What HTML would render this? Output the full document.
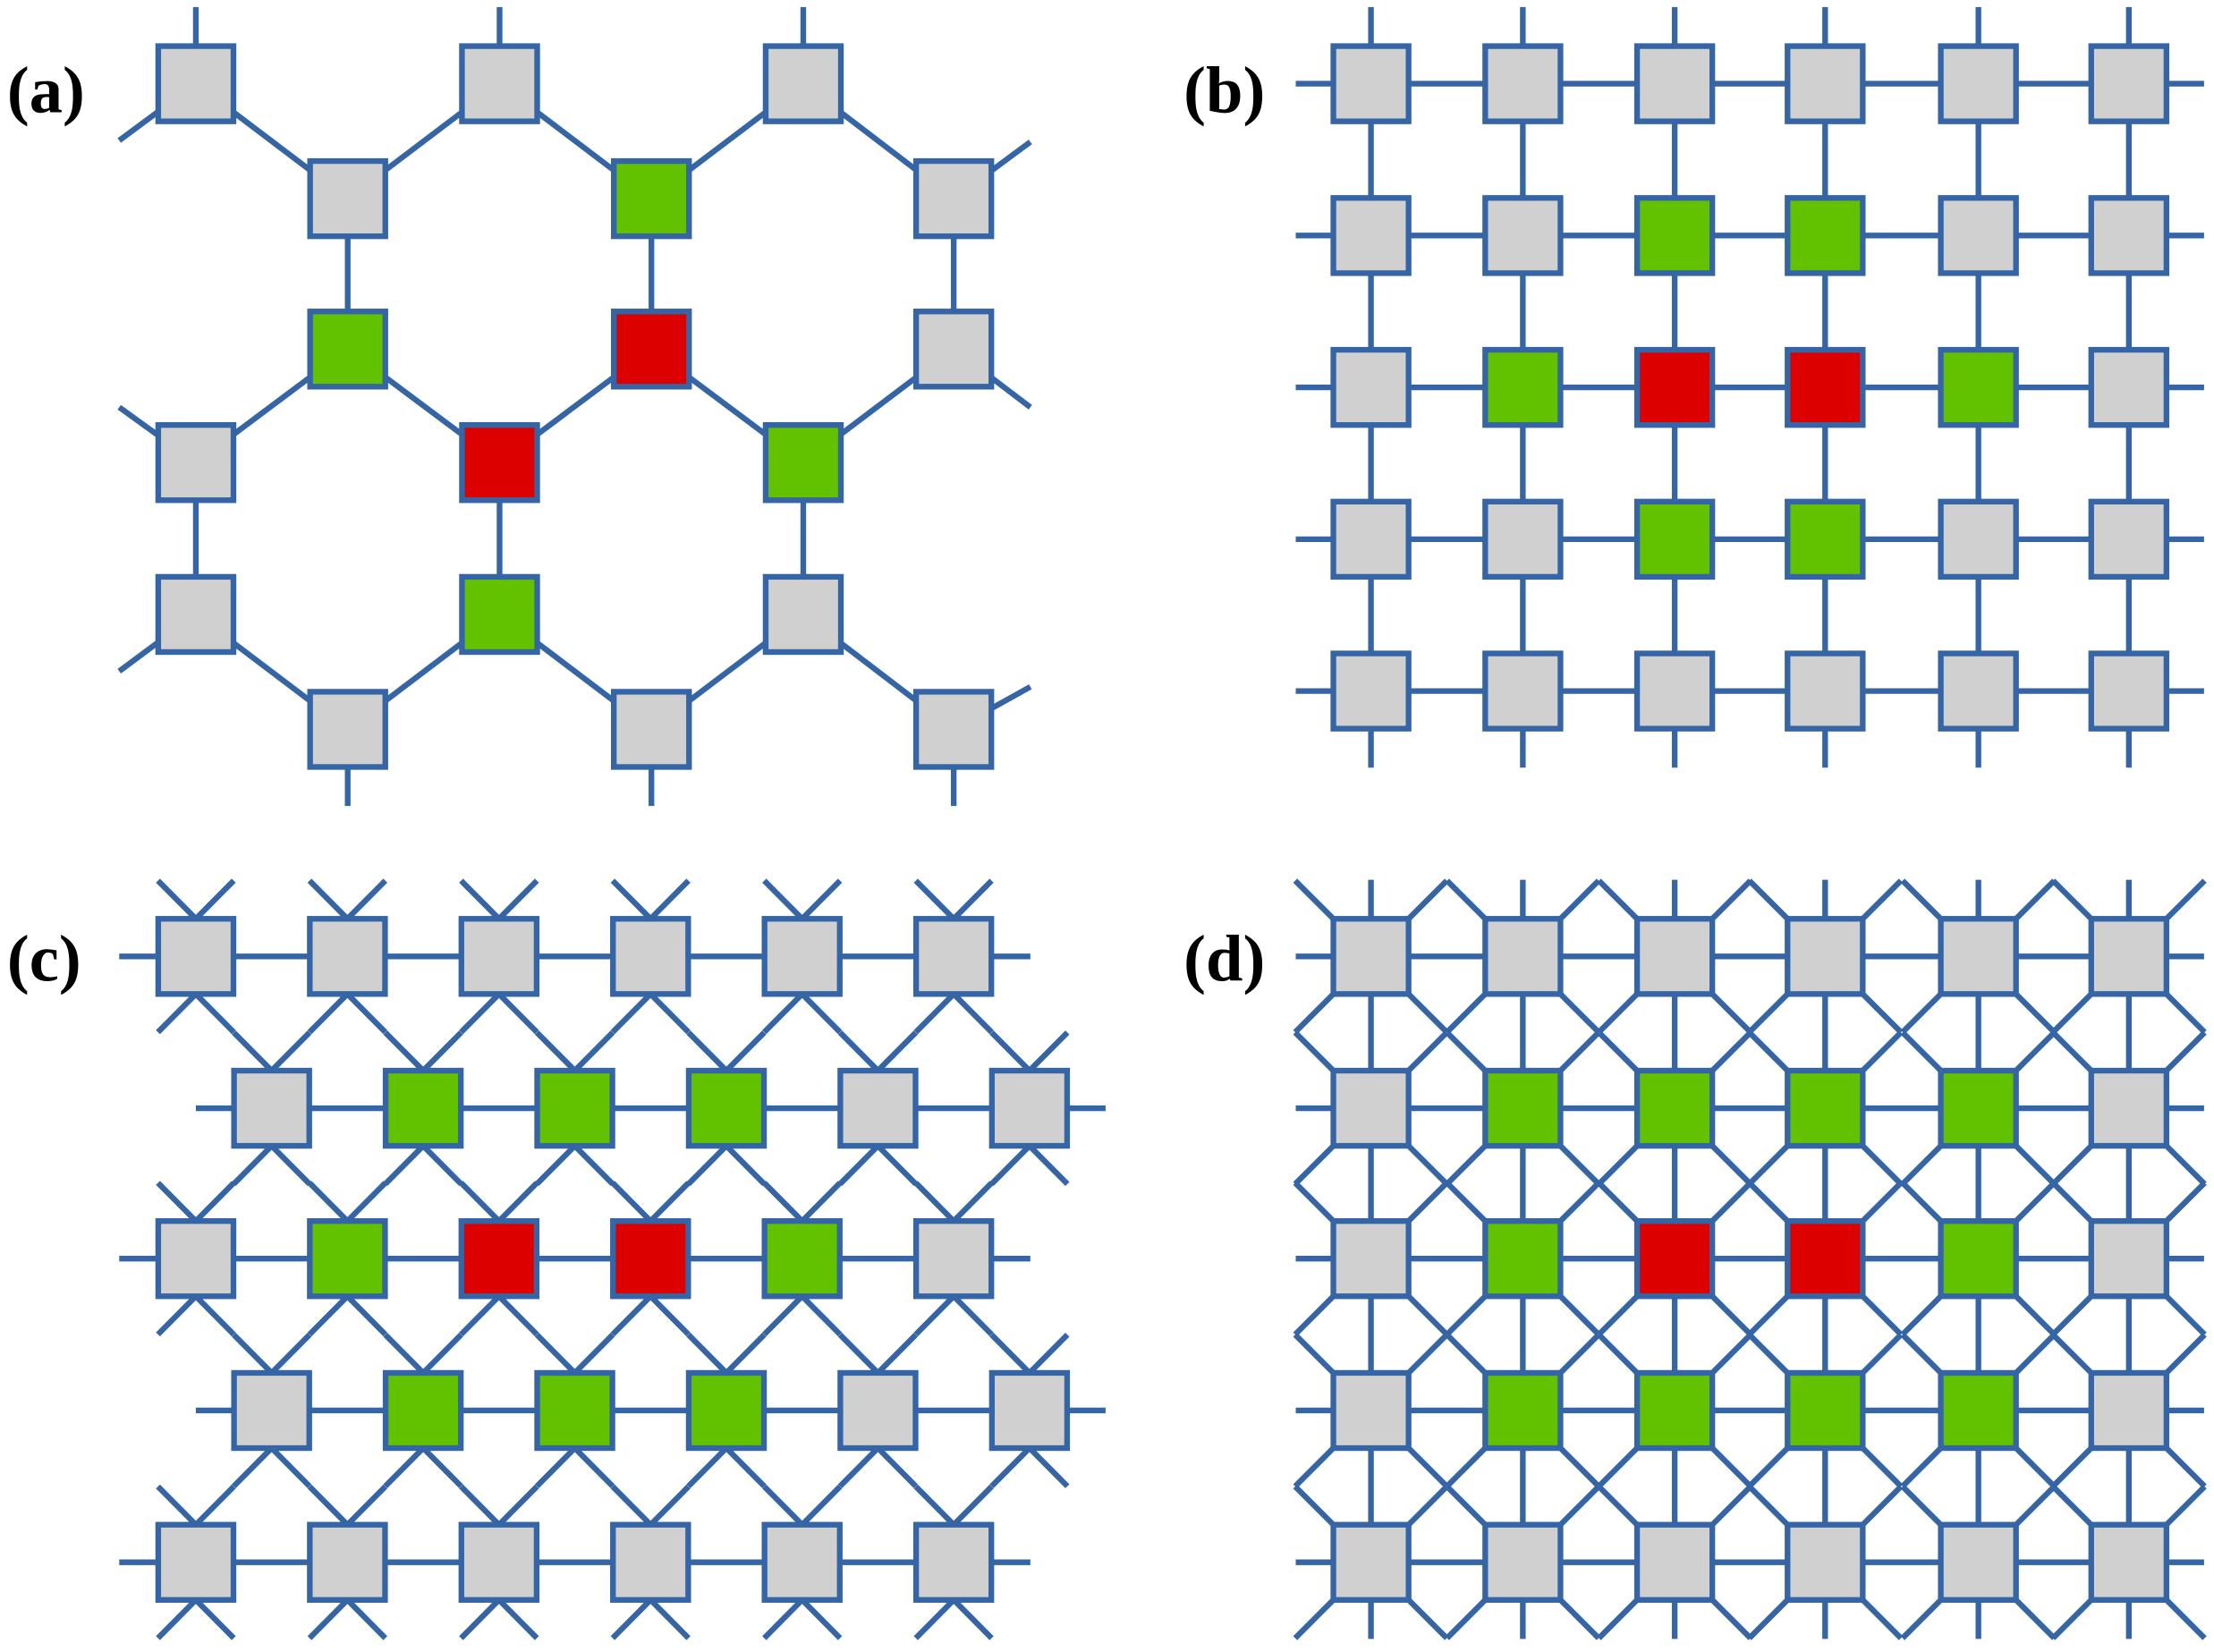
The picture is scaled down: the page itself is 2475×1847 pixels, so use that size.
<!DOCTYPE html>
<html><head><meta charset="utf-8"><style>html,body{margin:0;padding:0;background:#fff}svg{display:block}</style></head>
<body>
<svg id="s" xmlns="http://www.w3.org/2000/svg" width="2475" height="1847" viewBox="0 0 1560 1164.2" preserveAspectRatio="none">
<g id="lines" stroke="#3565a5" stroke-width="4" fill="none" stroke-linecap="butt"></g>
<g id="boxes" stroke="#3565a5" stroke-width="4"></g>
<g font-family="'Liberation Serif', serif" font-size="47" font-weight="bold" fill="#000">
<text x="5" y="79">(a)</text>
<text x="834" y="79">(b)</text>
<text x="5" y="691">(c)</text>
<text x="834" y="691">(d)</text>
</g>
</svg>
<script>
var NS="http://www.w3.org/2000/svg";
var L=document.getElementById('lines'),B=document.getElementById('boxes');
function ln(x1,y1,x2,y2){var e=document.createElementNS(NS,'line');e.setAttribute('x1',x1);e.setAttribute('y1',y1);e.setAttribute('x2',x2);e.setAttribute('y2',y2);L.appendChild(e);}
var C={g:'#d0d0d0',G:'#62c200',R:'#dd0000'};
function bx(cx,cy,c){var e=document.createElementNS(NS,'rect');e.setAttribute('x',cx-26.5);e.setAttribute('y',cy-26.5);e.setAttribute('width',53);e.setAttribute('height',53);e.setAttribute('fill',C[c]);B.appendChild(e);}
// Panel (a)
var P={A:[138,59],B:[352,59],Cc:[566,59],D:[245,140],E:[459,140],F:[672,140],G:[245,246],H:[459,246],I:[672,246],J:[138,326],K:[352,326],M:[566,326],N:[138,433],O:[352,433],Q:[566,433],S:[245,514],T:[459,514],U:[672,514]};
function e(a,b){ln(P[a][0],P[a][1],P[b][0],P[b][1]);}
[['A','D'],['D','B'],['B','E'],['E','Cc'],['Cc','F'],['D','G'],['E','H'],['F','I'],['G','J'],['G','K'],['H','K'],['H','M'],['I','M'],['J','N'],['K','O'],['M','Q'],['N','S'],['S','O'],['O','T'],['T','Q'],['Q','U']].forEach(function(p){e(p[0],p[1]);});
ln(138,5,138,59);ln(352,5,352,59);ln(566,5,566,59);
ln(138,59,84,99);ln(672,140,726,100);ln(672,246,726,287);ln(138,326,84,287);ln(138,433,84,473);ln(672,514,726,484);
ln(245,514,245,568);ln(459,514,459,568);ln(672,514,672,568);
var ac={A:'g',B:'g',Cc:'g',D:'g',E:'G',F:'g',G:'G',H:'R',I:'g',J:'g',K:'R',M:'G',N:'g',O:'G',Q:'g',S:'g',T:'g',U:'g'};
for(var k in ac)bx(P[k][0],P[k][1],ac[k]);
// Panel (b)
var p=106.8,bxs=[966,1073,1180,1286,1394,1500];
var by=[59,166,273,380,487];
by.forEach(function(y){ln(913,y,1553,y);});
bxs.forEach(function(x){ln(x,5,x,541);});
var bc=['gggggg','ggGGgg','gGRRGg','ggGGgg','gggggg'];
by.forEach(function(y,j){bxs.forEach(function(x,i){bx(x,y,bc[j][i]);});});
// Panel (c)
var cy=[674,781,887,994,1101];
var cc=['gggggg','gGGGgg','gGRRGg','gGGGgg','gggggg'];
cy.forEach(function(y,j){
  var off=(j%2)?53.4:0;
  if(j%2)ln(138,y,779,y);else ln(84,y,726,y);
  for(var i=0;i<6;i++){var x=138+off+p*i;
    ln(x,y-26.5,x-26.7,y-53.4);ln(x,y-26.5,x+26.7,y-53.4);
    ln(x,y+26.5,x-26.7,y+53.4);ln(x,y+26.5,x+26.7,y+53.4);}
});
cy.forEach(function(y,j){var off=(j%2)?53.4:0;for(var i=0;i<6;i++)bx(138+off+p*i,y,cc[j][i]);});
// Panel (d)
var dc=['gggggg','gGGGGg','gGRRGg','gGGGGg','gggggg'];
cy.forEach(function(y){ln(913,y,1553,y);});
bxs.forEach(function(x){ln(x,620,x,1155);});
cy.forEach(function(y){bxs.forEach(function(x){
  [[-1,-1],[1,-1],[-1,1],[1,1]].forEach(function(d){ln(x+d[0]*26.5,y+d[1]*26.5,x+d[0]*53.4,y+d[1]*53.4);});
});});
cy.forEach(function(y,j){bxs.forEach(function(x,i){bx(x,y,dc[j][i]);});});
</script>
</body></html>
